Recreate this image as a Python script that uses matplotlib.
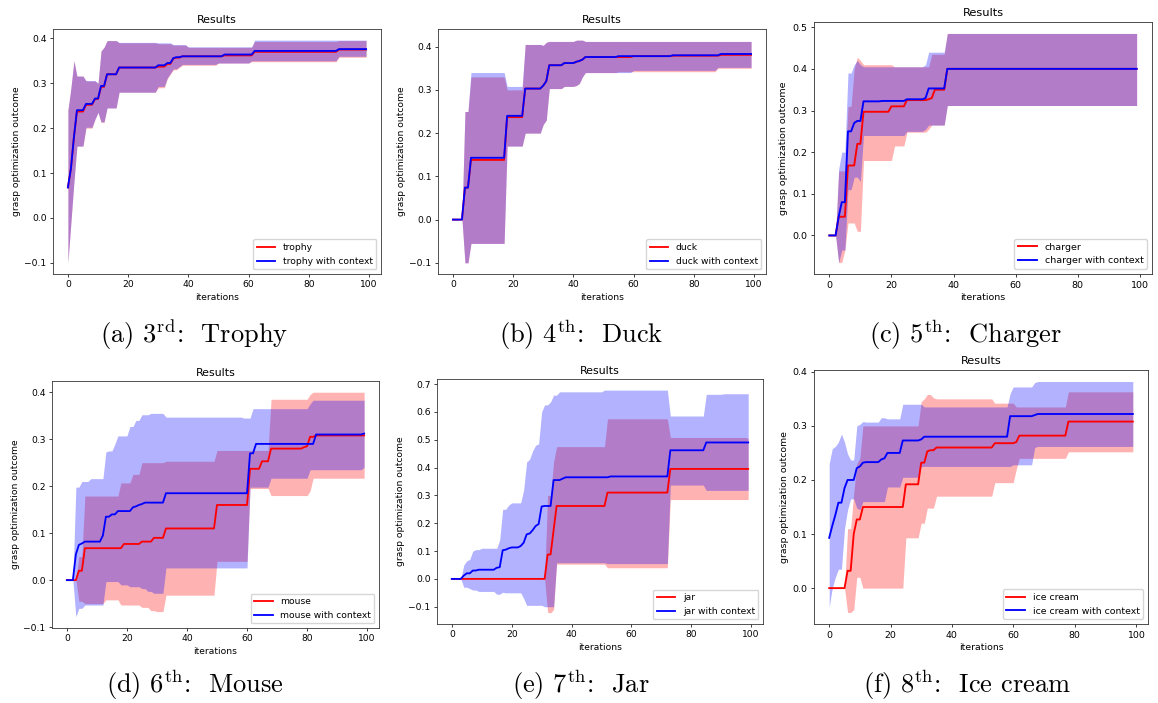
import numpy as np
import matplotlib
matplotlib.use("Agg")
import matplotlib.pyplot as plt

# step values: (iteration where value starts, value), held until next entry
N_ITER = 100

trophy_mean = [(0, .068), (1, .11), (2, .18), (3, .237), (6, .252), (9, .265), (11, .292), (13, .32), (17, .335),
               (30, .337), (33, .343), (35, .355), (36, .357), (38, .36), (52, .362), (62, .37), (90, .375)]
trophy_hi = [(0, .24), (1, .29), (2, .35), (3, .316), (6, .305), (10, .30), (11, .372), (12, .38), (13, .395),
             (17, .39), (30, .388), (35, .385), (40, .38), (62, .393), (90, .395)]
trophy_lo = [(0, -.1), (1, -.01), (2, .08), (3, .16), (6, .20), (9, .22), (10, .235), (11, .213), (13, .245),
             (17, .28), (30, .29), (33, .31), (34, .32), (35, .33), (37, .335), (38, .34), (50, .345), (61, .348),
             (90, .358)]
trophy_ctx_mean = [(0, .068), (1, .11), (2, .18), (3, .24), (6, .254), (9, .266), (11, .294), (13, .32), (17, .335),
                   (30, .34), (33, .345), (35, .356), (36, .358), (38, .36), (52, .364), (62, .372), (90, .376)]
trophy_ctx_hi = [(0, .24), (1, .29), (2, .35), (3, .316), (6, .306), (10, .30), (11, .372), (12, .38), (13, .395),
                 (17, .391), (30, .39), (35, .386), (40, .381), (62, .396)]
trophy_ctx_lo = [(0, -.1), (1, -.01), (2, .08), (3, .16), (6, .202), (9, .22), (10, .235), (11, .214), (13, .245),
                 (17, .28), (30, .293), (33, .312), (34, .322), (35, .332), (37, .337), (38, .342), (50, .345),
                 (61, .35), (90, .36)]

duck_mean = [(0, 0), (4, .074), (6, .138), (18, .237), (24, .303), (30, .31), (31, .32), (32, .357), (37, .362),
             (41, .365), (42, .367), (43, .37), (44, .376), (60, .378), (73, .379), (89, .381)]
duck_hi = [(0, 0), (4, .25), (6, .33), (18, .30), (24, .405), (30, .403), (31, .41), (32, .412), (41, .415), (44, .412)]
duck_lo = [(0, 0), (4, -.1), (6, -.055), (18, .17), (24, .2), (30, .22), (31, .23), (32, .303), (37, .308), (41, .31),
           (42, .315), (43, .33), (44, .34), (55, .342), (88, .35)]
duck_ctx_mean = [(0, 0), (4, .074), (6, .143), (18, .24), (24, .303), (30, .31), (31, .32), (32, .357), (37, .362),
                 (41, .365), (42, .367), (43, .37), (44, .376), (55, .378), (73, .38), (89, .383)]
duck_ctx_hi = [(0, 0), (4, .25), (6, .34), (18, .308), (24, .405), (30, .403), (31, .41), (32, .412), (41, .415),
               (44, .412)]
duck_ctx_lo = [(0, 0), (4, -.1), (6, -.055), (18, .17), (24, .2), (30, .22), (31, .23), (32, .303), (37, .308),
               (41, .31), (42, .315), (43, .33), (44, .34), (60, .345), (88, .352)]

charger_mean = [(0, 0), (3, .045), (6, .168), (9, .22), (11, .297), (20, .31), (25, .325), (32, .327), (33, .33),
                (34, .35), (38, .40)]
charger_hi = [(0, 0), (3, .155), (6, .31), (8, .40), (9, .428), (10, .42), (11, .41), (21, .405), (33, .435), (38, .485)]
charger_lo = [(0, 0), (3, -.065), (5, -.035), (6, .03), (9, .01), (11, .18), (21, .215), (25, .248), (32, .255),
              (33, .265), (38, .312)]
charger_ctx_mean = [(0, 0), (3, .045), (4, .08), (6, .25), (8, .27), (9, .275), (11, .322), (17, .323), (25, .327),
                    (31, .33), (32, .353), (38, .40)]
charger_ctx_hi = [(0, 0), (3, .16), (4, .20), (6, .39), (8, .41), (9, .42), (10, .41), (11, .405), (31, .41),
                  (32, .44), (38, .485)]
charger_ctx_lo = [(0, 0), (3, -.065), (4, -.035), (6, .11), (8, .14), (10, .13), (11, .24), (25, .25), (31, .255),
                  (32, .265), (38, .312)]

mouse_mean = [(0, 0), (4, .02), (6, .068), (19, .077), (25, .082), (29, .09), (33, .11), (50, .16), (61, .237),
              (65, .253), (68, .28), (79, .283), (80, .285), (81, .305), (83, .308)]
mouse_hi = [(0, 0), (4, .05), (6, .179), (18, .207), (22, .225), (25, .25), (33, .253), (50, .276), (68, .385),
            (81, .395), (82, .40)]
mouse_lo = [(0, 0), (4, -.045), (6, -.05), (13, -.042), (18, -.053), (25, -.058), (28, -.065), (30, -.067),
            (33, -.032), (50, .04), (61, .195), (68, .18), (81, .19), (82, .217)]
mouse_ctx_mean = [(0, 0), (3, .055), (4, .075), (5, .078), (6, .082), (12, .095), (13, .135), (15, .14), (17, .147),
                  (22, .155), (23, .157), (24, .16), (25, .162), (26, .165), (33, .185), (61, .27), (63, .29),
                  (83, .31), (99, .312)]
mouse_ctx_hi = [(0, 0), (3, .198), (5, .21), (8, .216), (13, .273), (14, .275), (16, .29), (17, .307), (21, .327),
                (23, .34), (25, .352), (28, .355), (33, .347), (59, .345), (62, .365), (81, .375), (82, .383)]
mouse_ctx_lo = [(0, 0), (3, -.078), (4, -.06), (6, -.053), (13, -.003), (18, -.01), (21, -.014), (25, -.018),
                (27, -.024), (29, -.028), (33, .026), (61, .198), (68, .217), (81, .235), (99, .24)]

jar_mean = [(0, 0), (32, .087), (33, .088), (34, .175), (35, .262), (52, .31), (73, .395)]
jar_hi = [(0, 0), (32, .3), (34, .42), (35, .475), (52, .575), (73, .508), (99, .505)]
jar_lo = [(0, 0), (32, -.12), (33, -.122), (34, -.11), (35, .053), (52, .04), (73, .285)]
jar_ctx_mean = [(0, 0), (4, .012), (5, .02), (7, .03), (9, .033), (15, .04), (16, .042), (17, .103), (18, .105),
                (19, .11), (20, .113), (23, .118), (24, .13), (25, .16), (26, .163), (27, .175), (28, .19),
                (29, .197), (30, .26), (31, .262), (34, .355), (37, .36), (38, .365), (53, .368), (73, .462),
                (85, .49)]
jar_ctx_hi = [(0, 0), (4, .05), (5, .065), (6, .07), (7, .1), (8, .105), (10, .11), (16, .14), (17, .25), (19, .265),
              (20, .273), (24, .32), (25, .42), (26, .43), (27, .46), (28, .48), (29, .485), (30, .6), (31, .625),
              (33, .636), (34, .66), (36, .672), (51, .678), (73, .585), (85, .663), (91, .665)]
jar_ctx_lo = [(0, 0), (4, -.03), (6, -.035), (7, -.04), (9, -.045), (15, -.055), (17, -.048), (18, -.05),
              (24, -.07), (25, -.095), (31, -.1), (35, .058), (52, .055), (73, .337), (85, .318)]

ice_mean = [(0, 0), (6, .032), (8, .10), (9, .127), (11, .15), (25, .192), (30, .232), (32, .253), (33, .255),
            (35, .26), (54, .268), (61, .27), (62, .282), (78, .308)]
ice_hi = [(0, 0), (6, .11), (8, .175), (9, .23), (10, .24), (11, .30), (30, .345), (31, .35), (32, .358), (34, .352),
          (35, .35), (54, .342), (61, .335), (78, .363)]
ice_lo = [(0, 0), (6, -.045), (8, -.04), (9, .02), (11, 0), (25, .093), (30, .12), (32, .148), (35, .17), (54, .195),
          (61, .22), (62, .24), (78, .252)]
ice_ctx_mean = [(0, .093), (1, .115), (2, .135), (3, .158), (5, .185), (6, .2), (9, .222), (10, .225), (11, .232),
                (12, .233), (17, .238), (18, .24), (19, .25), (24, .273), (30, .275), (31, .28), (59, .318),
                (67, .32), (68, .322)]
ice_ctx_hi = [(0, .23), (1, .258), (2, .262), (3, .27), (4, .285), (5, .27), (6, .248), (7, .237), (9, .30),
              (10, .303), (11, .308), (12, .307), (17, .315), (19, .313), (24, .34), (31, .335), (59, .36),
              (60, .372), (67, .38), (68, .382)]
ice_ctx_lo = [(0, -.035), (1, 0), (2, .02), (3, .035), (5, .11), (6, .145), (7, .165), (9, .148), (10, .145),
              (11, .16), (19, .187), (24, .205), (30, .225), (60, .228), (67, .26), (68, .262)]

names = ["trophy", "duck", "charger", "mouse", "jar", "ice cream"]
captions = [r"(a) 3$^{\mathrm{rd}}$:  Trophy", r"(b) 4$^{\mathrm{th}}$:  Duck", r"(c) 5$^{\mathrm{th}}$:  Charger",
            r"(d) 6$^{\mathrm{th}}$:  Mouse", r"(e) 7$^{\mathrm{th}}$:  Jar", r"(f) 8$^{\mathrm{th}}$:  Ice cream"]


def hold(points, n=N_ITER):
    out = np.empty(n)
    for k, (start, val) in enumerate(points):
        end = points[k + 1][0] if k + 1 < len(points) else n
        out[start:end] = val
    return out


series = [
    (trophy_mean, trophy_lo, trophy_hi, trophy_ctx_mean, trophy_ctx_lo, trophy_ctx_hi),
    (duck_mean, duck_lo, duck_hi, duck_ctx_mean, duck_ctx_lo, duck_ctx_hi),
    (charger_mean, charger_lo, charger_hi, charger_ctx_mean, charger_ctx_lo, charger_ctx_hi),
    (mouse_mean, mouse_lo, mouse_hi, mouse_ctx_mean, mouse_ctx_lo, mouse_ctx_hi),
    (jar_mean, jar_lo, jar_hi, jar_ctx_mean, jar_ctx_lo, jar_ctx_hi),
    (ice_mean, ice_lo, ice_hi, ice_ctx_mean, ice_ctx_lo, ice_ctx_hi),
]

# axes boxes in pixels: left, top, right, bottom
boxes = [(53, 29, 381, 274), (438, 29, 766, 274), (814, 22, 1152, 274),
         (52, 381, 379, 628), (437, 379, 763, 624), (814, 370, 1148, 624)]
caption_pos = [(194, 335), (581, 335), (966, 335), (195, 685), (581, 685), (967, 685)]

W, H = 1158, 703
plt.rcParams['mathtext.fontset'] = 'cm'
fig = plt.figure(figsize=(W / 100, H / 100), dpi=100)
x = np.arange(N_ITER)

for i, (name, data, box) in enumerate(zip(names, series, boxes)):
    l, t, r, b = box
    s = (r - l) / 496.0  # scale vs default matplotlib figure
    ax = fig.add_axes([l / W, 1 - b / H, (r - l) / W, (b - t) / H])
    m, lo, hi, cm, clo, chi = [hold(p) for p in data]
    ax.fill_between(x, lo, hi, color='red', alpha=0.3, linewidth=0)
    ax.fill_between(x, clo, chi, color='blue', alpha=0.3, linewidth=0)
    ax.plot(x, m, color='red', lw=2.0 * s, label=name)
    ax.plot(x, cm, color='blue', lw=2.0 * s, label=name + ' with context')
    ax.set_title('Results', fontsize=12 * s, pad=6 * s)
    ax.set_xlabel('iterations', fontsize=10 * s, labelpad=4 * s)
    ax.set_ylabel('grasp optimization outcome', fontsize=10 * s, labelpad=4 * s)
    ax.tick_params(labelsize=10 * s, length=3.5 * s, width=0.8 * s, pad=3.5 * s)
    for sp in ax.spines.values():
        sp.set_linewidth(0.9 * s)
        sp.set_color('#333333')
    ax.legend(loc='lower right', fontsize=10 * s)

for cap, (cx, cy) in zip(captions, caption_pos):
    fig.text(cx / W, 1 - cy / H, cap, ha='center', va='center', fontsize=19, family='cmr10')

fig.savefig('out.png', dpi=100)
